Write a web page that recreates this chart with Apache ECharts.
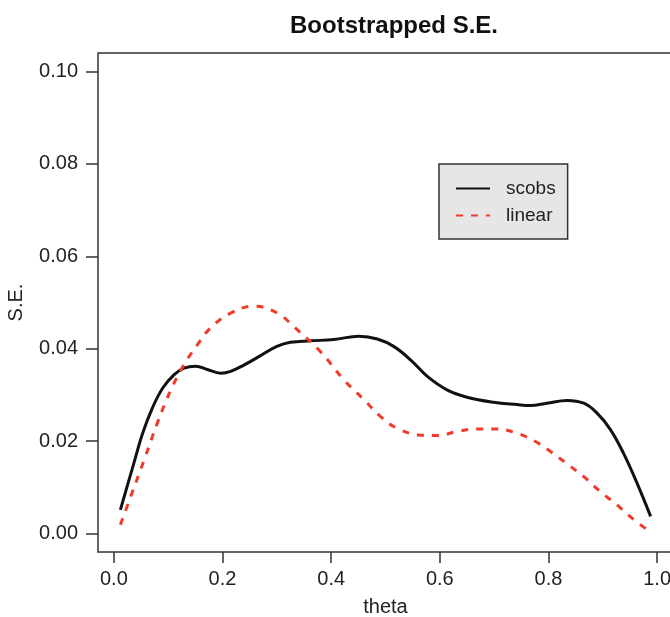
<!DOCTYPE html>
<html>
<head>
<meta charset="utf-8">
<script src="https://cdn.jsdelivr.net/npm/echarts@6/dist/echarts.min.js"></script>
<style>
  html, body { margin: 0; padding: 0; background: #fff; }
  #chart { width: 670px; height: 617px; }
</style>
</head>
<body>
<div id="chart"></div>
<script>
// ==================== 数据 ====================
const xTicks = [0, 0.2, 0.4, 0.6, 0.8, 1.0]
const yTicks = [0, 0.02, 0.04, 0.06, 0.08, 0.10]

const scobsTheta = [0.012, 0.037, 0.053, 0.071, 0.09, 0.111, 0.129, 0.151, 0.172, 0.197, 0.215, 0.24, 0.27, 0.30, 0.325, 0.362, 0.405, 0.451, 0.485, 0.515, 0.546, 0.577, 0.613, 0.65, 0.699, 0.742, 0.767, 0.797, 0.834, 0.865, 0.889, 0.914, 0.938, 0.963, 0.988]
const scobsSE = [0.0051, 0.0153, 0.0217, 0.0272, 0.0315, 0.0344, 0.0358, 0.0362, 0.0355, 0.0347, 0.0351, 0.0365, 0.0385, 0.0405, 0.0414, 0.0417, 0.0420, 0.0427, 0.0421, 0.0405, 0.0376, 0.0340, 0.0311, 0.0295, 0.0284, 0.0279, 0.0277, 0.0282, 0.0288, 0.0282, 0.0261, 0.0225, 0.0174, 0.0109, 0.0037]

const linearTheta = [0.012, 0.031, 0.056, 0.08, 0.105, 0.129, 0.154, 0.178, 0.215, 0.258, 0.301, 0.331, 0.38, 0.423, 0.46, 0.491, 0.521, 0.558, 0.595, 0.632, 0.668, 0.705, 0.742, 0.773, 0.803, 0.834, 0.865, 0.895, 0.926, 0.956, 0.987]
const linearSE = [0.0019, 0.0080, 0.0160, 0.0239, 0.0311, 0.0365, 0.0409, 0.0445, 0.0477, 0.0492, 0.0477, 0.0448, 0.0394, 0.0333, 0.0290, 0.0253, 0.0228, 0.0214, 0.0212, 0.0221, 0.0226, 0.0226, 0.0217, 0.0201, 0.0178, 0.0151, 0.0123, 0.0091, 0.0062, 0.0031, 0.0004]

const pairs = (xs, ys) => xs.map((x, i) => [x, ys[i]])

const axisColor = '#333'
const textColor = '#222'
const font = 'Liberation Sans, Arial, sans-serif'

const chart = echarts.init(document.getElementById('chart'))
chart.setOption({
  animation: false,
  backgroundColor: '#fff',
  title: {
    text: 'Bootstrapped S.E.',
    left: 389,
    top: 9,
    textAlign: 'center',
    textStyle: { fontFamily: font, fontSize: 24, fontWeight: 'bold', color: '#111' }
  },
  legend: {
    orient: 'vertical',
    left: 439,
    top: 164,
    padding: [15, 12, 14, 16],
    itemWidth: 34,
    itemHeight: 14,
    itemGap: 8,
    backgroundColor: '#e6e6e6',
    borderColor: '#333',
    borderWidth: 1.5,
    itemStyle: { opacity: 0 },
    lineStyle: { width: 2 },
    textStyle: { fontFamily: font, fontSize: 19, color: textColor, padding: [0, 0, 0, 11] },
    data: ['scobs', 'linear']
  },
  grid: {
    show: true,
    left: 98,
    top: 53,
    width: 575,
    height: 499,
    outerBoundsMode: 'none',
    borderColor: axisColor,
    borderWidth: 1.5,
    containLabel: false
  },
  xAxis: {
    type: 'value',
    min: -0.0292,
    max: 1.0292,
    name: 'theta',
    nameLocation: 'middle',
    nameGap: 45,
    nameTextStyle: { fontFamily: font, fontSize: 20, color: textColor },
    axisLine: { show: false, onZero: false },
    splitLine: { show: false },
    axisTick: { show: true, inside: false, length: 11, customValues: xTicks, lineStyle: { color: axisColor, width: 1.5 } },
    axisLabel: {
      customValues: xTicks,
      margin: 17,
      fontFamily: font,
      fontSize: 20,
      color: textColor,
      formatter: (v) => v.toFixed(1)
    }
  },
  yAxis: {
    type: 'value',
    min: -0.004,
    max: 0.104,
    name: 'S.E.',
    nameLocation: 'middle',
    nameGap: 72,
    nameTextStyle: { fontFamily: font, fontSize: 20, color: textColor },
    axisLine: { show: false, onZero: false },
    splitLine: { show: false },
    axisTick: { show: true, inside: false, length: 12, customValues: yTicks, lineStyle: { color: axisColor, width: 1.5 } },
    axisLabel: {
      customValues: yTicks,
      margin: 20,
      fontFamily: font,
      fontSize: 20,
      color: textColor,
      formatter: (v) => v.toFixed(2)
    }
  },
  series: [
    {
      name: 'scobs',
      type: 'line',
      data: pairs(scobsTheta, scobsSE),
      smooth: 0.4,
      showSymbol: false,
      symbol: 'none',
      lineStyle: { color: '#111', width: 3 },
      itemStyle: { color: '#111' }
    },
    {
      name: 'linear',
      type: 'line',
      data: pairs(linearTheta, linearSE),
      smooth: 0.4,
      showSymbol: false,
      symbol: 'none',
      lineStyle: { color: '#f03a2a', width: 3, type: [7, 8] },
      itemStyle: { color: '#f03a2a' }
    }
  ]
})
</script>
</body>
</html>
